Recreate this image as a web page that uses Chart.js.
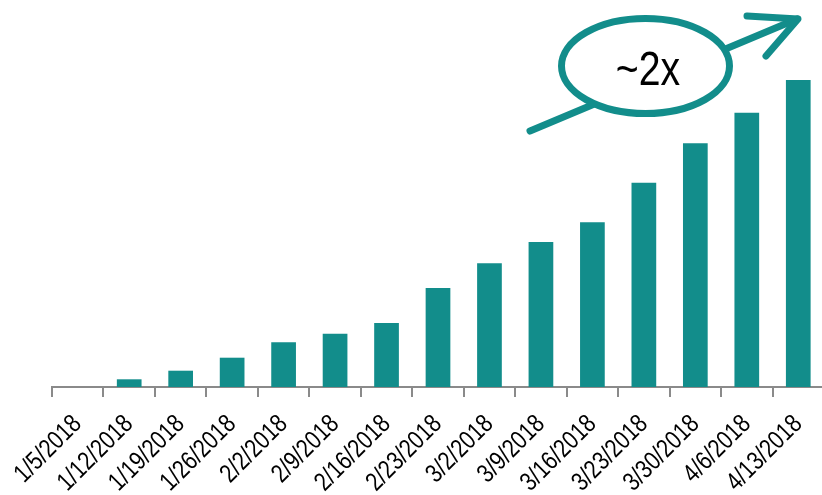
<!DOCTYPE html>
<html>
<head>
<meta charset="utf-8">
<script src="https://cdn.jsdelivr.net/npm/chart.js@4"></script>
<style>
  html, body { margin: 0; padding: 0; background: #fff; overflow: hidden; }
  #wrap { width: 824px; height: 495px; }
</style>
</head>
<body>
<div id="wrap"><canvas id="bar_chart"></canvas></div>
<script>
var weeks = ["1/5/2018", "1/12/2018", "1/19/2018", "1/26/2018", "2/2/2018", "2/9/2018",
  "2/16/2018", "2/23/2018", "3/2/2018", "3/9/2018", "3/16/2018", "3/23/2018",
  "3/30/2018", "4/6/2018", "4/13/2018"];
var counts = [0, 7.7, 16.3, 29.3, 44.7, 53.3, 64, 99, 123.7, 145, 164.7, 204.3, 243.7, 274.3, 307];
var growthLabel = "~2x";

var teal = '#128d8b';
var axisGrey = '#8a8a8a';
var sans = '"Liberation Sans", Arial, sans-serif';

// no condensed face is installed, so text gets squeezed horizontally
function narrowText(ctx, text, x, y, angle, squeeze) {
  ctx.save();
  ctx.translate(x, y);
  ctx.rotate(angle);
  ctx.scale(squeeze, 1);
  ctx.fillText(text, 0, 0);
  ctx.restore();
}

// rotated week labels under the axis
var weekLabels = {
  id: 'weekLabels',
  afterDraw: function(chart) {
    var ctx = chart.ctx;
    var xs = chart.scales.x;
    ctx.save();
    ctx.fillStyle = '#000';
    ctx.font = '26px ' + sans;
    ctx.textAlign = 'right';
    ctx.textBaseline = 'alphabetic';
    weeks.forEach(function(w, i) {
      narrowText(ctx, w, xs.getPixelForTick(i) + 5, xs.top + 38, -Math.PI / 4, 0.82);
    });
    ctx.restore();
  }
};

// ellipse with "~2x" and an arrow going up to the right
var growthCallout = {
  id: 'growthCallout',
  afterDraw: function(chart) {
    var ctx = chart.ctx;
    ctx.save();
    ctx.strokeStyle = teal;
    ctx.lineWidth = 7;
    ctx.lineCap = 'round';
    ctx.lineJoin = 'round';

    ctx.beginPath();
    ctx.moveTo(530, 131);
    ctx.lineTo(797, 19);
    ctx.stroke();

    ctx.beginPath();
    ctx.ellipse(645.5, 66, 84, 47.5, 0, 0, Math.PI * 2);
    ctx.fillStyle = '#fff';
    ctx.fill();
    ctx.stroke();

    ctx.beginPath();
    ctx.moveTo(747, 16);
    ctx.lineTo(798, 19);
    ctx.lineTo(766, 56);
    ctx.stroke();

    ctx.fillStyle = '#000';
    ctx.font = '49px ' + sans;
    ctx.textAlign = 'center';
    ctx.textBaseline = 'alphabetic';
    narrowText(ctx, growthLabel, 648, 85, 0, 0.8);
    ctx.restore();
  }
};

var barData = {
  labels: weeks,
  datasets: [{
    data: counts,
    backgroundColor: teal,
    categoryPercentage: 1,
    barPercentage: 0.48
  }]
};

var barOptions = {
  responsive: true,
  maintainAspectRatio: false,
  animation: false,
  layout: { padding: { left: 52, right: 0, top: 0, bottom: 0 } },
  plugins: { legend: { display: false }, tooltip: { enabled: false } },
  scales: {
    x: {
      grid: {
        drawOnChartArea: false,
        color: axisGrey,
        lineWidth: 2,
        tickLength: 10,
        offset: true
      },
      border: { color: axisGrey, width: 2 },
      ticks: {
        autoSkip: false,
        maxRotation: 0,
        color: 'rgba(0,0,0,0)', // labels are drawn by weekLabels
        font: { size: 12 }
      },
      afterFit: function(scale) {
        scale.height = 108;
        scale.paddingLeft = 0;
        scale.paddingRight = 0;
      }
    },
    y: {
      display: false,
      min: 0,
      max: 387
    }
  }
};

var ctx2 = document.getElementById("bar_chart");
new Chart(ctx2, {type: 'bar', data: barData, options: barOptions, plugins: [weekLabels, growthCallout]});
</script>
</body>
</html>
